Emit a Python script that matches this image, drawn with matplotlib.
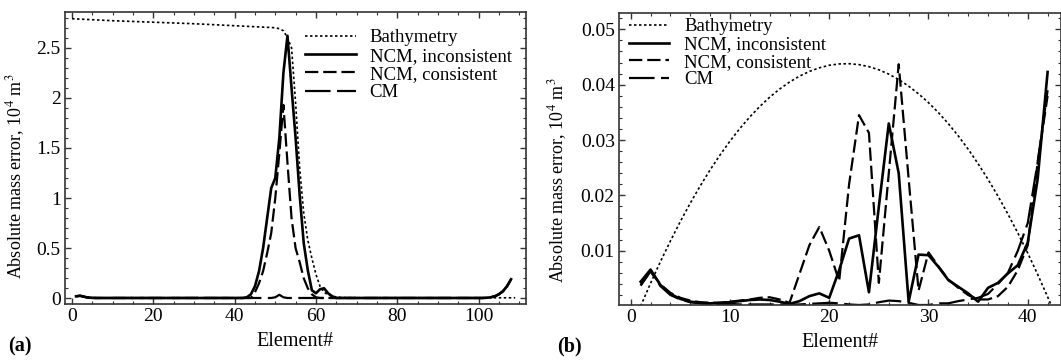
import matplotlib
matplotlib.use("Agg")
import matplotlib.pyplot as plt
from matplotlib.ticker import MultipleLocator, FuncFormatter
import numpy as np

plt.rcParams["font.family"] = ["Liberation Serif", "DejaVu Serif"]
plt.rcParams["mathtext.fontset"] = "stix"

# ---- panel (a): 108 elements ----
el_a = np.arange(1, 109)
ncm_inc_a = ([0.02, 0.025, 0.015, 0.007, 0.004] + [0.003] * 37
             + [0.01, 0.04, 0.12, 0.27, 0.5, 0.8, 1.1, 1.2, 1.6, 2.25, 2.62,
                2.1, 1.6, 1.03, 0.55, 0.28, 0.08, 0.05, 0.09, 0.1, 0.05, 0.02]
             + [0.003] * 37
             + [0.005, 0.01, 0.02, 0.04, 0.07, 0.12, 0.19])
ncm_con_a = ([0.02, 0.025, 0.015, 0.007, 0.004] + [0.003] * 39
             + [0.06, 0.15, 0.27, 0.45, 0.65, 1.0, 1.45, 1.93, 1.35, 0.8,
                0.5, 0.36, 0.2, 0.1, 0.04, 0.01]
             + [0.003] * 41
             + [0.005, 0.01, 0.02, 0.04, 0.07, 0.12, 0.19])
cm_a = ([0.02, 0.025, 0.015, 0.007, 0.004] + [0.003] * 44
        + [0.01, 0.035, 0.01] + [0.003] * 49
        + [0.005, 0.01, 0.02, 0.04, 0.07, 0.12, 0.19])
bath_x_a = [0, 10, 20, 30, 40, 50, 51, 52, 53, 54, 55, 56, 57, 58, 59, 60,
            61, 62, 63, 64, 66, 70, 80, 90, 100, 109]
bath_a = [2.79, 2.77, 2.755, 2.74, 2.72, 2.70, 2.69, 2.67, 2.6, 2.5, 1.95,
          1.3, 0.85, 0.58, 0.4, 0.24, 0.12, 0.06, 0.035, 0.02, 0.008, 0.005,
          0.005, 0.005, 0.005, 0.005]

# ---- panel (b): 42 elements ----
el_b = np.arange(1, 43)
ncm_inc_b = [0.0044, 0.0066, 0.0038, 0.0022, 0.0013, 0.0008, 0.0006, 0.0005,
             0.0006, 0.0007, 0.0009, 0.0011, 0.0012, 0.0011, 0.0008, 0.0004,
             0.0009, 0.0018, 0.0023, 0.0015, 0.0065, 0.0122, 0.0128, 0.0025,
             0.018, 0.033, 0.024, 0.0008, 0.0093, 0.0092, 0.0071, 0.0047,
             0.0035, 0.0023, 0.0008, 0.0033, 0.0042, 0.0059, 0.0074, 0.0115,
             0.023, 0.0423]
ncm_con_b = [0.0038, 0.0063, 0.0039, 0.0024, 0.0015, 0.001, 0.0007, 0.0006,
             0.0006, 0.0008, 0.001, 0.0012, 0.0015, 0.0016, 0.0012, 0.0006,
             0.0058, 0.011, 0.0143, 0.01, 0.0045, 0.022, 0.0345, 0.0313,
             0.0042, 0.024, 0.0437, 0.023, 0.0028, 0.0097, 0.0072, 0.0048,
             0.0033, 0.002, 0.0012, 0.0012, 0.0018, 0.0035, 0.0065, 0.011,
             0.026, 0.038]
cm_b = [0.0037, 0.0063, 0.0036, 0.002, 0.0012, 0.0007, 0.0005, 0.0004,
        0.0004, 0.0004, 0.0003, 0.0003, 0.0003, 0.0003, 0.0003, 0.0003,
        0.0003, 0.0004, 0.0005, 0.0006, 0.0005, 0.0003, 0.0002, 0.0003,
        0.0007, 0.001, 0.0009, 0.0006, 0.0002, 0.0002, 0.0005, 0.0005,
        0.0009, 0.0012, 0.0015, 0.0022, 0.004, 0.006, 0.01, 0.015,
        0.026, 0.039]
bath_x_b = list(range(1, 43)) + [42.4]
bath_b = [0.0, 0.00413, 0.00806, 0.01177, 0.01529, 0.0186, 0.02171, 0.02461,
          0.02731, 0.02981, 0.0321, 0.03418, 0.03606, 0.03774, 0.03921,
          0.04048, 0.04154, 0.0424, 0.04305, 0.04351, 0.04375, 0.04379,
          0.04363, 0.04326, 0.04269, 0.04191, 0.04093, 0.03974, 0.03835,
          0.03676, 0.03496, 0.03296, 0.03075, 0.02834, 0.02572, 0.0229,
          0.01987, 0.01664, 0.01321, 0.00957, 0.00572, 0.00168, 0.0]

labels = ["Bathymetry", "NCM, inconsistent", "NCM, consistent", "CM"]


def draw(ax, el, bx, bath, inc, con, cm):
    ax.plot(bx, bath, color="k", lw=1.2, dashes=(1.5, 1.5), label=labels[0])
    ax.plot(el, inc, color="k", lw=1.9, label=labels[1])
    ax.plot(el, con, color="k", lw=1.6, dashes=(6, 2.2), label=labels[2])
    ax.plot(el, cm, color="k", lw=1.6, dashes=(11.5, 2.9), label=labels[3])
    ax.tick_params(which="both", direction="in", top=True, right=True,
                   labelsize=14, pad=3, color="#333333")
    ax.tick_params(which="major", length=4, width=1)
    ax.tick_params(which="minor", length=2.2, width=0.8)
    for s in ax.spines.values():
        s.set_color("#333333")
        s.set_linewidth(1.2)
    ax.yaxis.set_major_formatter(FuncFormatter(lambda v, p: "%g" % round(v, 4)))
    ax.set_xlabel("Element#", fontsize=14.5)
    ax.set_ylabel("Absolute mass error, 10$^4$ m$^3$", fontsize=13)


fig = plt.figure(figsize=(10.61, 3.6), dpi=100)
ax1 = fig.add_axes([64.9 / 1061, 1 - 304 / 360, 460.8 / 1061, 292.3 / 360])
ax2 = fig.add_axes([619 / 1061, 1 - 305 / 360, 442 / 1061, 291.7 / 360])

draw(ax1, el_a, bath_x_a, bath_a, ncm_inc_a, ncm_con_a, cm_a)
ax1.set_xlim(-1.75, 111.6)
ax1.set_ylim(-0.057, 2.86)
ax1.xaxis.set_major_locator(MultipleLocator(20))
ax1.xaxis.set_minor_locator(MultipleLocator(5))
ax1.yaxis.set_major_locator(MultipleLocator(0.5))
ax1.yaxis.set_minor_locator(MultipleLocator(0.1))
ax1.yaxis.set_label_coords(-0.082, 0.438)
ax1.xaxis.set_label_coords(0.5, -0.095)
ax1.legend(loc="upper left", bbox_to_anchor=(0.521, 0.94), frameon=False,
           fontsize=13.5, borderpad=0, borderaxespad=0, handlelength=2.7,
           handletextpad=0.75, labelspacing=0.06)

draw(ax2, el_b, bath_x_b, bath_b, ncm_inc_b, ncm_con_b, cm_b)
ax2.set_xlim(-1.18, 43.35)
ax2.set_ylim(0.0002, 0.0529)
ax2.xaxis.set_major_locator(MultipleLocator(10))
ax2.xaxis.set_minor_locator(MultipleLocator(2))
ax2.yaxis.set_major_locator(MultipleLocator(0.01))
ax2.yaxis.set_minor_locator(MultipleLocator(0.002))
ax2.yaxis.set_label_coords(-0.112, 0.429)
ax2.xaxis.set_label_coords(0.5, -0.095)
ax2.legend(loc="upper left", bbox_to_anchor=(0.023, 0.983), frameon=False,
           fontsize=13.5, borderpad=0, borderaxespad=0, handlelength=2.15,
           handletextpad=0.8, labelspacing=0.03)

fig.text(8 / 1061, 1 - 356 / 360, "(a)", fontsize=14.5, fontweight="bold", va="bottom")
fig.text(557 / 1061, 1 - 356 / 360, "(b)", fontsize=14.5, fontweight="bold", va="bottom")

fig.savefig("out.png", dpi=100)
